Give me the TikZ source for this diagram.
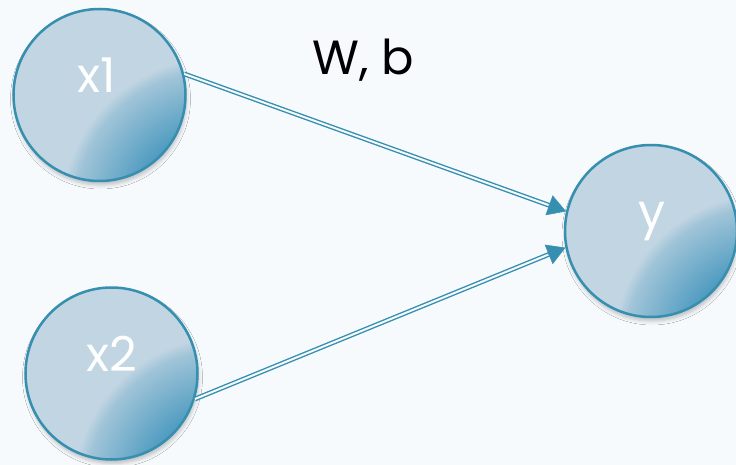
\documentclass[tikz,border=0pt]{standalone}
\usepackage{fontspec}
\setmainfont{Poppins}
\usetikzlibrary{arrows.meta,shadows.blur,calc}

\definecolor{bgc}{RGB}{246,250,253}
\definecolor{edgec}{RGB}{55,143,176}
\definecolor{lightb}{RGB}{193,213,226}
\definecolor{midb}{RGB}{160,196,216}
\definecolor{darkb}{RGB}{78,155,192}

% dark core beyond the lower right, fading out to the light tint
\pgfdeclareradialshading{ringshade}{\pgfpointorigin}{%
  color(0bp)=(darkb); color(78bp)=(darkb); color(140bp)=(midb);
  color(152bp)=(lightb); color(260bp)=(lightb)}

\tikzset{
  neuron/.style={circle, minimum size=172pt, inner sep=0pt,
    draw=edgec, line width=2.5pt, fill=lightb,
    path picture={
      \node[inner sep=0pt, outer sep=0pt]
        at ($(path picture bounding box.center)+(115pt,-116pt)$)
        {\pgfuseshading{ringshade}};},
    blur shadow={shadow xshift=1pt, shadow yshift=-4pt,
      shadow blur radius=4pt, shadow opacity=24}},
  lbl/.style={anchor=base, text=white, font=\fontsize{48}{48}\selectfont},
  caption/.style={anchor=base, text=black, font=\fontsize{48}{48}\selectfont},
  link/.style={draw=edgec, double=bgc, double distance=2pt,
    line width=1.4pt, shorten >=16pt},
  tiphead/.style={draw=edgec, line width=0.5pt,
    -{Triangle[length=18pt,width=21pt]}}
}

\begin{document}
\begin{tikzpicture}[x=1pt,y=-1pt]
  \fill[bgc] (0,0) rectangle (736,465);
  \useasboundingbox (0,0) rectangle (736,465);

  % neurons
  \node[neuron] (x1) at (99.5,95) {};
  \node[neuron] (x2) at (111.5,373.5) {};
  \node[neuron] (y)  at (651,231) {};

  \node[lbl] (x1t) at ($(x1.center)+(-3,-2.5)$) {x1};
  \node[lbl] (x2t) at ($(x2.center)+(0,-2.5)$) {x2};
  \node[lbl] (yt)  at ($(y.center)+(1,-2.5)$) {y};

  \node[caption] (wb) at (363,75) {W, b};

  % connections
  \draw[link] (x1.14) -- (y.167);
  \draw[tiphead] ($(y.167)!19pt!(x1.14)$) -- (y.167);
  \draw[link] (x2.-17) -- (y.-169);
  \draw[tiphead] ($(y.-169)!19pt!(x2.-17)$) -- (y.-169);
\end{tikzpicture}
\end{document}
